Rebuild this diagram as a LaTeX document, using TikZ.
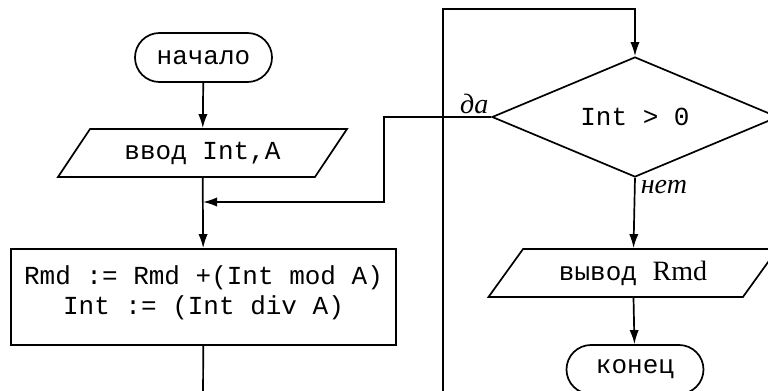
\documentclass[tikz,border=0pt]{standalone}
\usepackage{fontspec}
\setmainfont{Liberation Serif}
\setmonofont{Liberation Mono}
\usetikzlibrary{arrows.meta}
\usetikzlibrary{shapes.geometric}
\usetikzlibrary{shapes.misc}

\tikzset{
  code/.style={font=\ttfamily\fontsize{13}{15}\selectfont},
  term/.style={code, draw, rounded rectangle, minimum width=72.5pt, minimum height=24.5pt, inner sep=2pt},
  io/.style={code, draw, trapezium, trapezium left angle=39.6, trapezium right angle=140.4,
    trapezium stretches body, minimum width=144.5pt, minimum height=24pt, inner sep=1pt},
  proc/.style={code, draw, rectangle, minimum width=192.5pt, minimum height=48pt, align=center, inner sep=2pt},
  cond/.style={code, draw, diamond, aspect=2.4, minimum width=143pt, minimum height=60pt, inner sep=0pt},
  lbl/.style={font=\itshape\fontsize{14}{16}\selectfont, inner sep=1pt},
  arr/.style={-{Latex[length=7pt,width=4.6pt]}}
}

\begin{document}
\begin{tikzpicture}[x=0.5pt, y=-0.5pt, line width=0.85pt]
        \useasboundingbox (0,0) rectangle (768,391);

        \node[term] (start) at (203.5,57.5) {начало};
        \node[io] (inp) at (202.5,153) {ввод Int,A};
        \node[proc] (calc) at (203.5,297) {Rmd := Rmd +(Int mod A)\\Int := (Int div A)\\[-8pt]};
        \node[cond] (dec) at (635,117) {Int > 0};
        \node[io] (out) at (633,273) {вывод {\rmfamily\fontsize{14}{16}\selectfont Rmd}};
        \node[term] (stop) at (635,369.5) {конец};

        \node[lbl, anchor=south east] (yes) at (dec.west) {да};
        \node[lbl, anchor=north west] (no) at ([xshift=1.5pt]dec.south) {нет};

        \coordinate (join) at (203,202);
        \coordinate (yesC) at (384,117);
        \coordinate (leftB) at (203,400);
        \coordinate (loopB) at (443,400);
        \coordinate (loopT) at (443,9);

        \draw[arr] (start) -- (inp);
        \draw[arr] (inp) -- (calc);
        \draw (calc) -- (leftB);
        \draw[arr] (loopB) -- (loopT) -| (dec.north);
        \draw[arr] (dec.west) -- (yesC) |- (join);
        \draw[arr] (dec.south) -- (out);
        \draw[arr] (out) -- (stop);
    \end{tikzpicture}
\end{document}
